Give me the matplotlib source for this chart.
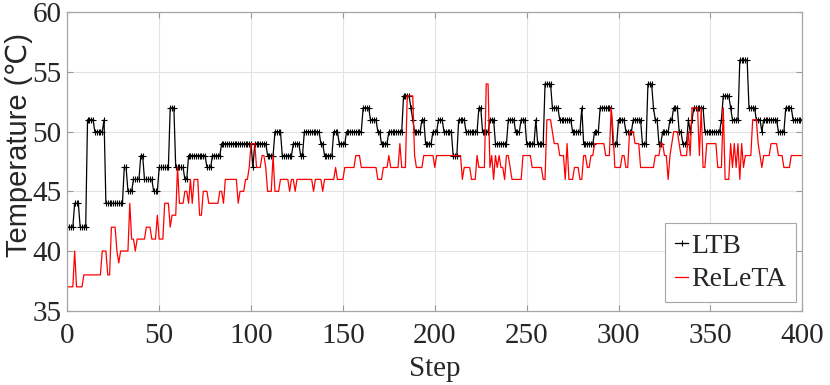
import matplotlib
matplotlib.use("Agg")
import matplotlib.pyplot as plt
import numpy as np

# readings from the chart, as (value, number of consecutive steps)
ltb_runs = [
    (42, 4), (44, 3), (42, 4), (51, 4), (50, 5), (51, 1), (44, 10),
    (47, 2), (45, 3), (46, 4), (48, 2), (46, 5), (45, 3), (47, 6),
    (52, 3), (47, 5), (46, 2), (48, 10), (47, 3), (48, 5),
    (49, 17),
    (47, 1), (49, 7), (48, 4), (50, 4), (48, 6), (49, 4), (48, 2),
    (50, 9), (49, 2), (48, 5), (50, 3), (49, 4), (50, 9),
    (52, 4), (51, 4), (50, 2), (49, 4), (50, 8),
    (53, 4), (52, 1), (51, 1), (50, 4), (51, 2), (49, 4), (50, 3), (51, 3), (50, 5),
    (48, 3), (51, 4), (50, 7), (52, 2), (50, 4), (51, 3), (49, 7),
    (51, 4), (50, 3), (51, 3), (49, 5), (51, 1), (49, 4),
    (54, 4), (52, 4), (51, 7), (50, 5), (52, 1), (49, 6), (50, 3), (52, 7),
    (49, 3), (51, 4), (50, 4), (51, 5), (49, 3), (54, 3),
    (52, 1), (51, 2), (49, 2), (50, 4), (51, 2), (52, 3), (50, 2), (49, 3), (51, 1), (50, 1), (51, 1),
    (52, 6), (50, 9), (51, 1), (53, 4), (52, 1), (51, 4),
    (56, 5), (52, 4), (51, 3), (50, 1), (51, 8), (50, 4), (52, 4), (51, 6),
]

releta_runs = [
    (37, 4), (40, 1), (37, 4), (38, 10), (40, 3), (38, 2), (42, 3), (40, 1), (39, 1), (40, 5),
    (44, 1), (41, 2), (40, 1), (41, 5), (42, 3), (41, 3), (43, 1), (41, 3), (44, 3), (42, 1),
    (43, 3), (47, 1), (44, 3), (45, 2), (44, 1), (46, 1), (44, 1), (46, 3), (43, 2), (45, 3),
    (44, 6), (45, 2), (44, 1), (46, 7), (44, 1), (45, 3), (46, 2), (47, 1),
    (49, 3), (47, 3), (48, 2), (47, 1), (45, 3), (48, 1), (45, 3), (46, 5), (45, 1), (46, 2),
    (45, 1), (46, 9), (45, 1), (46, 4), (45, 1), (46, 6), (47, 1), (46, 4), (47, 6), (48, 3),
    (47, 9), (46, 3), (47, 3), (48, 1), (47, 5), (49, 1), (47, 3), (53, 4), (48, 1), (47, 4),
    (48, 6), (47, 1), (48, 14), (46, 1), (47, 4), (46, 3), (48, 1), (47, 4), (54, 2), (47, 1),
    (48, 1), (46, 1), (48, 1), (47, 1), (48, 1), (47, 2), (46, 1), (48, 2), (47, 1), (46, 6),
    (48, 5), (47, 6), (46, 2), (51, 3), (50, 1), (49, 3), (48, 3), (46, 1), (49, 1), (46, 3),
    (47, 3), (46, 2), (48, 2), (47, 2), (48, 2), (49, 6), (48, 3), (52, 1), (50, 1), (47, 4),
    (48, 2), (47, 2), (50, 3), (49, 3), (47, 8), (48, 3), (49, 2), (48, 2), (46, 1), (48, 1),
    (49, 1), (50, 3), (49, 1), (48, 4), (50, 1), (48, 1), (52, 4), (48, 1), (52, 1), (47, 2),
    (49, 6), (47, 3), (52, 1), (46, 3), (49, 1), (47, 1), (49, 1), (47, 1), (49, 1), (46, 1),
    (49, 1), (47, 1), (48, 4), (51, 3), (49, 1), (48, 1), (47, 1), (48, 4), (49, 4), (48, 3),
    (47, 4), (48, 7),
]

xticks = [0, 50, 100, 150, 200, 250, 300, 350, 400]
yticks = [35, 40, 45, 50, 55, 60]


def expand(runs):
    vals = [v for v, _ in runs]
    counts = [n for _, n in runs]
    return np.repeat(vals, counts)


ltb = expand(ltb_runs)
releta = expand(releta_runs)

fig = plt.figure(figsize=(8.3, 3.85), dpi=100)
ax = fig.add_axes([0.0811, 0.193, 0.8855, 0.775])

ax.plot(np.arange(len(ltb)), ltb, color="black", lw=0.9, marker="+", ms=5, mew=0.8, label="LTB")
ax.plot(np.arange(len(releta)), releta, color="red", lw=0.9, label="ReLeTA")

ax.set_xlim(0, 400)
ax.set_ylim(35, 60)
ax.set_xticks(xticks)
ax.set_yticks(yticks)
ax.grid(True, color="#e3e3e3", lw=0.8)
ax.set_axisbelow(True)
ax.tick_params(direction="in", length=4, top=True, right=True, color="#999999",
               labelsize=21, labelcolor="#262626")
ax.tick_params(axis="x", pad=9)
ax.tick_params(axis="y", pad=4)
for t in ax.get_xticklabels() + ax.get_yticklabels():
    t.set_family("Liberation Serif")
for s in ax.spines.values():
    s.set_color("#a6a6a6")
    s.set_linewidth(0.9)

ax.set_xlabel("Step", family="Liberation Serif", fontsize=21, color="#262626", labelpad=5)
ax.set_ylabel("Temperature (\u2103)", family=["Liberation Sans", "DejaVu Sans"],
              fontsize=21, color="#262626")
ax.yaxis.set_label_coords(-0.047, 0.555)

leg = ax.legend(loc="lower right", prop={"family": "Liberation Serif", "size": 20},
                handlelength=0.5, handletextpad=0.1, borderpad=0.35, labelspacing=0.3,
                borderaxespad=0, fancybox=False, framealpha=1, edgecolor="#a6a6a6",
                bbox_to_anchor=(0.9914, 0.029))
leg.get_frame().set_linewidth(0.8)
for t in leg.get_texts():
    t.set_color("#262626")

fig.savefig("out.png", dpi=100)
